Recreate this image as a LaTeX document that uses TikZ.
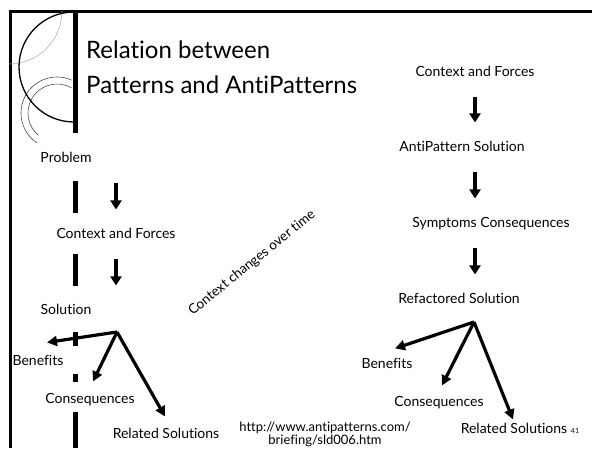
\documentclass[tikz,border=0pt]{standalone}
\usepackage{fontspec}
\setmainfont{Lato}[Ligatures=NoCommon]
\usetikzlibrary{arrows.meta, positioning}

\tikzset{
  lbl/.style={font=\fontsize{14}{16}\selectfont, inner sep=0pt, text height=10pt, text depth=2.7pt},
  ttl/.style={font=\fontsize{24}{28}\selectfont, inner sep=0pt, anchor=base west},
  flow/.style={line width=4pt, -{Triangle[width=11pt,length=9pt]}, shorten <=17pt, shorten >=19pt},
  branch/.style={line width=3.2pt, -{Triangle[width=10pt,length=10pt]}},
  bar/.style={line width=5pt},
}

\begin{document}
\begin{tikzpicture}[x=1pt, y=-1pt]
  \useasboundingbox (0,0) rectangle (592,448);

  % Slide frame and decoration
  \draw[line width=2.5pt] (10.5,448) -- (10.5,11.5) -- (592,11.5);
  \draw[gray!60, line width=0.6pt] (62,11) arc (0:-90:53pt);
  \draw[black!70, line width=0.6pt] (57,113) ++(66:36pt) arc (66:236:36pt);
  \draw[black!70, line width=0.6pt] (57,113) ++(60:29pt) arc (60:230:29pt);
  \draw[line width=1.3pt] (74,12) arc (90:270:55pt);
  \draw[bar] (75.5,11) -- (75.5,133);
  \foreach \ya/\yb in {181/213, 254/286, 332/346, 374/382, 412/448}
    \draw[bar] (75.5,\ya) -- (75.5,\yb);

  % Title
  \node[ttl] (ttl1) at (86,58) {Relation between};
  \node[ttl] (ttl2) at ([yshift=-35pt]ttl1.base west) {Patterns and AntiPatterns};

  % Pattern side
  \node[lbl] (prob1) at (66,159) {Problem};
  \node[lbl] (cf1) at (116,235) {Context and Forces};
  \node[lbl] (sol1) at (66,311) {Solution};
  \node[lbl] (ben1) at (38,362) {Benefits};
  \node[lbl] (con1) at (90,400) {Consequences};
  \node[lbl] (rel1) at (166,435) {Related Solutions};

  % AntiPattern side
  \node[lbl] (cf2) at (475,73) {Context and Forces};
  \node[lbl] (aps) at (462,148) {AntiPattern Solution};
  \node[lbl] (sym) at (491,224) {Symptoms Consequences};
  \node[lbl] (ref) at (459,300) {Refactored Solution};
  \node[lbl] (ben2) at (387,365) {Benefits};
  \node[lbl] (con2) at (439,403) {Consequences};
  \node[lbl] (rel2) at (514,430) {Related Solutions};

  % Flow arrows
  \draw[flow] (cf1.north |- prob1.south) -- (cf1.north);
  \draw[flow] (cf1.south) -- (cf1.south |- sol1.north);
  \draw[flow] (cf2.south) -- (cf2.south |- aps.north);
  \draw[flow] (cf2.south |- aps.south) -- (cf2.south |- sym.north);
  \draw[flow] (cf2.south |- sym.south) -- (cf2.south |- ref.north);

  % Branches
  \coordinate (fork1) at (117,332);
  \coordinate (fork2) at (474,322);
  \draw[branch] (fork1) -- ([xshift=9pt,yshift=13pt]ben1.north);
  \draw[branch] (fork1) -- ([xshift=3pt,yshift=12pt]con1.north);
  \draw[branch] (fork1) -- ([xshift=-1pt,yshift=12pt]rel1.north);
  \draw[branch] (fork2) -- ([xshift=8pt,yshift=10pt]ben2.north);
  \draw[branch] (fork2) -- ([xshift=3pt,yshift=11pt]con2.north);
  \draw[branch] (fork2) -- ([xshift=-1pt,yshift=4pt]rel2.north);

  % Notes
  \node[font=\fontsize{13.5}{15}\selectfont, rotate=39] (ctime) at (252,263) {Context changes over time};
  \node[font=\fontsize{13}{13}\selectfont, align=center, inner sep=0pt] (url) at (325,434) {http://www.antipatterns.com/\\briefing/sld006.htm};
  \node[font=\fontsize{7}{8}\selectfont, inner sep=0pt] (pg) at (575,431) {41};
\end{tikzpicture}
\end{document}
